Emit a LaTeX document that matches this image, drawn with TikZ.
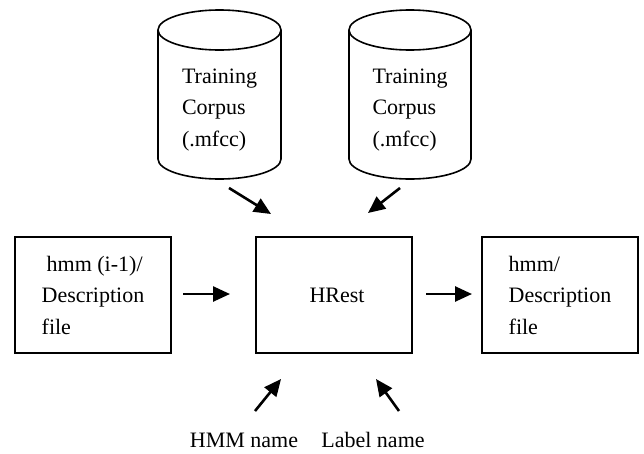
\documentclass[tikz,border=0pt]{standalone}
\usepackage{fontspec}
\setmainfont{Liberation Serif}
\usetikzlibrary{arrows.meta}
\tikzset{
  txt/.style={font=\fontsize{22}{31.5}\selectfont, inner sep=0pt},
  filebox/.style={draw, line width=1.8pt, minimum width=156pt, minimum height=116pt, align=left, txt},
  flow/.style={line width=2.6pt, -{Triangle[length=17pt,width=15pt]}},
  cyl/.style={line width=1.6pt}
}
\begin{document}
\begin{tikzpicture}[x=1pt,y=-1pt]
\useasboundingbox (0,0) rectangle (644,453);
% cylinders
\draw[cyl] (158,30) -- (158,159) arc[start angle=180, end angle=0, x radius=61.5, y radius=20] -- (281,30);
\draw[cyl] (219.5,30) ellipse[x radius=61.5, y radius=20];
\draw[cyl] (349,30) -- (349,159) arc[start angle=180, end angle=0, x radius=61, y radius=20] -- (471,30);
\draw[cyl] (410,30) ellipse[x radius=61, y radius=20];
\node[txt, align=left] (corpusL) at (219.5,110) {Training\\Corpus\\(.mfcc)};
\node[txt, align=left] (corpusR) at (410,110) {Training\\Corpus\\(.mfcc)};
% boxes
\node[filebox] (hmmin) at (93,295) {\hspace*{5pt}hmm (i-1)/\\Description\\file};
\node[filebox, align=center] (hrest) at (334,295) {\hspace*{6pt}HRest};
\node[filebox] (hmmout) at (560,295) {hmm/\\Description\\file};
% labels
\node[txt, anchor=base] (hmmname) at (244,447) {HMM name};
\node[txt, anchor=base] (labname) at (373,447) {Label name};
% arrow ends
\coordinate (a1) at (229,188); \coordinate (b1) at (271,214);
\coordinate (a2) at (400,188); \coordinate (b2) at (368,213);
\coordinate (a3) at (183,294); \coordinate (b3) at (230,294);
\coordinate (a4) at (426,294); \coordinate (b4) at (472,294);
\coordinate (a5) at (255,411); \coordinate (b5) at (281,379);
\coordinate (a6) at (399,411); \coordinate (b6) at (376,379);
\draw[flow] (a1) -- (b1);
\draw[flow] (a2) -- (b2);
\draw[flow] (a3) -- (b3);
\draw[flow] (a4) -- (b4);
\draw[flow] (a5) -- (b5);
\draw[flow] (a6) -- (b6);
\end{tikzpicture}
\end{document}
